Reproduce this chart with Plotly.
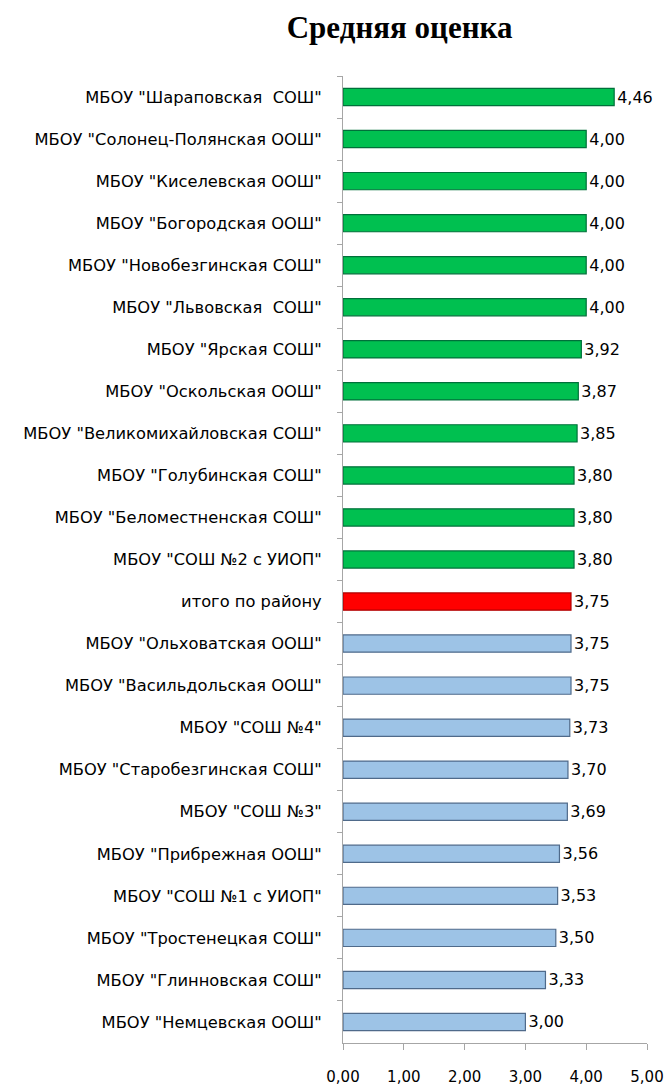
import plotly.graph_objects as go

categories = [
    'МБОУ "Шараповская  СОШ"',
    'МБОУ "Солонец-Полянская ООШ"',
    'МБОУ "Киселевская ООШ"',
    'МБОУ "Богородская ООШ"',
    'МБОУ "Новобезгинская СОШ"',
    'МБОУ "Львовская  СОШ"',
    'МБОУ "Ярская СОШ"',
    'МБОУ "Оскольская ООШ"',
    'МБОУ "Великомихайловская СОШ"',
    'МБОУ "Голубинская СОШ"',
    'МБОУ "Беломестненская СОШ"',
    'МБОУ "СОШ №2 с УИОП"',
    'итого по району',
    'МБОУ "Ольховатская ООШ"',
    'МБОУ "Васильдольская ООШ"',
    'МБОУ "СОШ №4"',
    'МБОУ "Старобезгинская СОШ"',
    'МБОУ "СОШ №3"',
    'МБОУ "Прибрежная ООШ"',
    'МБОУ "СОШ №1 с УИОП"',
    'МБОУ "Тростенецкая СОШ"',
    'МБОУ "Глинновская СОШ"',
    'МБОУ "Немцевская ООШ"',
]
values = [4.46, 4.00, 4.00, 4.00, 4.00, 4.00, 3.92, 3.87, 3.85, 3.80, 3.80, 3.80,
          3.75, 3.75, 3.75, 3.73, 3.70, 3.69, 3.56, 3.53, 3.50, 3.33, 3.00]
groups = ["above"] * 12 + ["total"] + ["below"] * 10
x_ticks = [0, 1, 2, 3, 4, 5]

fill = {"above": "#00C050", "total": "#FF0000", "below": "#9DC3E6"}
edge = {"above": "#00703A", "total": "#B00000", "below": "#4F6A8A"}

fig = go.Figure()
fig.add_trace(go.Bar(
    y=categories, x=values, orientation="h", width=0.41,
    marker=dict(color=[fill[g] for g in groups],
                line=dict(color=[edge[g] for g in groups], width=1.2)),
    texttemplate="%{x:.2f}", textposition="outside", cliponaxis=False,
    constraintext="none",
    textfont=dict(family="DejaVu Sans", size=16, color="#000000"),
    hoverinfo="skip",
))

fig.update_layout(
    width=666, height=1090,
    paper_bgcolor="white", plot_bgcolor="white",
    separators=", ",
    margin=dict(l=343, r=19, t=76, b=47),
    showlegend=False,
    title=dict(text="<b>Средняя оценка</b>", x=0.6, xanchor="center", y=0.975, yanchor="middle",
               font=dict(family="Liberation Serif", size=31, color="#000000")),
    bargap=0.59,
)
fig.update_xaxes(
    range=[0, 5], tickvals=x_ticks, tickformat=".2f",
    showgrid=False, zeroline=False, automargin=False,
    showline=True, linecolor="#A6A6A6", linewidth=1,
    ticks="outside", ticklen=6, tickcolor="#A6A6A6",
    ticklabelstandoff=14,
    tickfont=dict(family="DejaVu Sans", size=15, color="#000000"),
)
fig.update_yaxes(
    autorange="reversed", showgrid=False, automargin=False,
    showline=True, linecolor="#A6A6A6", linewidth=1,
    ticks="outside", ticklen=5, tickcolor="#A6A6A6", tickson="boundaries",
    ticklabelstandoff=17,
    tickfont=dict(family="DejaVu Sans", size=16.3, color="#000000"),
)

fig.write_html("out.html", config={"displayModeBar": False},
               post_script="document.body.style.margin='0px';")
